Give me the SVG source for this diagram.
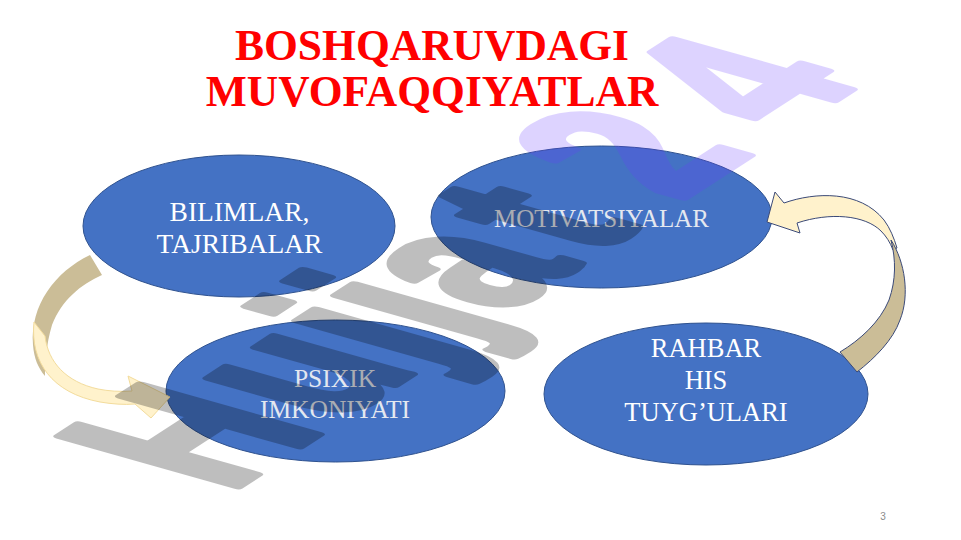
<svg xmlns="http://www.w3.org/2000/svg" width="961" height="540" viewBox="0 0 961 540">
<defs>
<style>
.title{font-family:"Liberation Serif","Times New Roman",serif;font-weight:bold;font-size:43.5px;fill:#ff0000;text-anchor:middle}
.node ellipse{fill:#4472c4;stroke:#2f528f;stroke-width:1}
.lbl{font-family:"Liberation Serif","Times New Roman",serif;fill:#ffffff;text-anchor:middle}
.lbl.soft{fill:#e4e8f0}
.shade{fill:#cbbd97}
.front{fill:#fff2cc}
.wm{font-family:"Liberation Sans",Arial,sans-serif;font-weight:bold;font-size:100px;stroke-width:4;stroke-linejoin:round}
</style>
</defs>
<rect width="961" height="540" fill="#ffffff"/>

<g id="title">
<text class="title" x="432" y="60">BOSHQARUVDAGI</text>
<text class="title" x="432" y="106">MUVOFAQQIYATLAR</text>
</g>

<g id="node-bilimlar" class="node">
<ellipse cx="239" cy="226" rx="156" ry="71"/>
<text class="lbl" font-size="27.5" x="239.5" y="221">BILIMLAR,</text>
<text class="lbl" font-size="27.5" x="239.5" y="253">TAJRIBALAR</text>
</g>

<g id="node-motivatsiyalar" class="node">
<ellipse cx="601.5" cy="217" rx="170.5" ry="71"/>
<text class="lbl soft" font-size="25" x="601.5" y="227">MOTIVATSIYALAR</text>
</g>

<g id="node-psixik" class="node">
<ellipse cx="335.5" cy="391" rx="169.5" ry="71"/>
<text class="lbl soft" font-size="25.5" x="335" y="387">PSIXIK</text>
<text class="lbl soft" font-size="25.5" x="335" y="418">IMKONIYATI</text>
</g>

<g id="node-rahbar" class="node">
<ellipse cx="706" cy="394" rx="162" ry="71"/>
<text class="lbl" font-size="26.5" x="706" y="357">RAHBAR</text>
<text class="lbl" font-size="26.5" x="706" y="389">HIS</text>
<text class="lbl" font-size="26.5" x="706" y="421">TUYG’ULARI</text>
</g>

<g id="connectors">
<g id="arrow-left">
<path class="shade" d="M90,255 C55,272 30,305 33,345 C34,358 38,368 45,376 C45,365 46,345 52,325 C62,300 80,285 102,275 Z"/>
<path class="front" stroke="#f3dc9c" stroke-width="1" d="M34,322 C30,362 52,393 100,402 C112,404 124,405 135,404 L151,418 L170,397 L128,376 L132,391 C120,392 108,391 98,389 C66,382 48,362 45,336 Z"/>
</g>
<g id="arrow-right" stroke="#3b4a78" stroke-width="1">
<path class="front" d="M767,222 L775,192 L784,203 C815,192 860,190 884,220 C890,228 894,238 897,248 L893,250 C890,242 886,236 881,231 C865,215 830,212 797,223 L800,233 Z"/>
<path class="shade" d="M891,240 C905,262 910,295 900,320 C893,340 875,358 857,372 L840,352 C860,340 880,322 889,300 C896,280 896,260 891,240 Z"/>
</g>
</g>

<g id="watermark" class="wm" transform="matrix(1.39 -0.90 2.59 0.73 228 493)">
<g opacity="0.25">
<text x="0 78 141 169 199 264" y="0" fill="#000000" stroke="#000000">Hujjat</text>
</g>
<g opacity="0.22">
<text x="324 403" y="0" fill="#6a3cff" stroke="#6a3cff">24</text>
</g>
</g>

<text x="883" y="520" font-family="Liberation Sans,Arial,sans-serif" font-size="10" fill="#8c8c8c" text-anchor="middle">3</text>
</svg>
